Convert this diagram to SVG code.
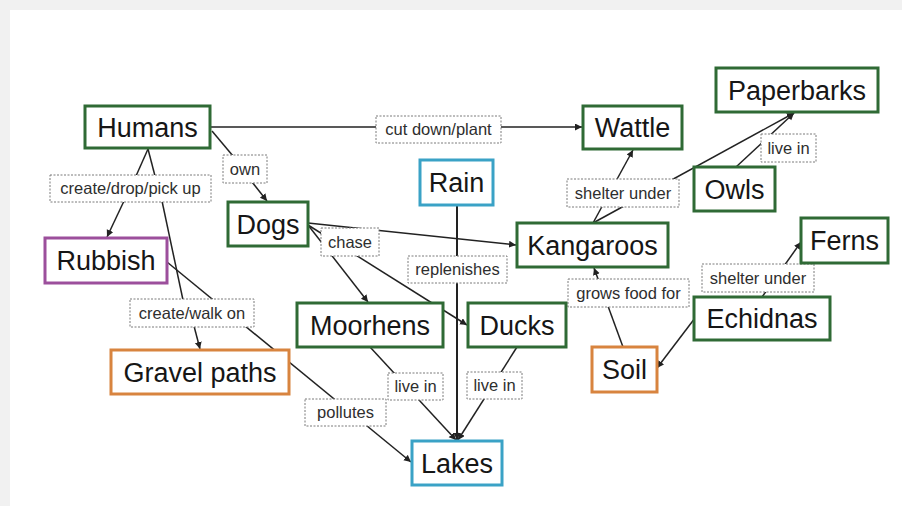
<svg xmlns="http://www.w3.org/2000/svg" width="902" height="506" viewBox="0 0 902 506">
<defs>
<marker id="arr" markerUnits="userSpaceOnUse" markerWidth="8" markerHeight="8" refX="7" refY="3.5" orient="auto">
<path d="M0,0 L7,3.5 L0,7 z" fill="#222"/>
</marker>
<style>
.node rect{fill:#fff;stroke-width:3}
.g rect{stroke:#2f6a35}
.p rect{stroke:#9c4f9c}
.o rect{stroke:#d8843f}
.b rect{stroke:#3aa2c6}
.node text{font-family:"Liberation Sans",Arial,sans-serif;font-size:27px;fill:#161616;text-anchor:middle}
.lbl rect{fill:#fff;stroke:#7a7a7a;stroke-width:1;stroke-dasharray:2 1.5}
.lbl text{font-family:"Liberation Sans",Arial,sans-serif;font-size:16.5px;fill:#2e2e2e;text-anchor:middle}
.edges line{stroke:#222;stroke-width:1.5;fill:none}
.a{marker-end:url(#arr)}
</style>
</defs>
<rect x="0" y="0" width="902" height="506" fill="#f1f1f1"/>
<rect x="10" y="10" width="892" height="496" fill="#fff"/>

<g id="connectors" class="edges">
<line class="a" x1="210" y1="127" x2="582" y2="127"/>
<line x1="212" y1="131" x2="233" y2="156"/>
<line class="a" x1="252" y1="182" x2="267" y2="201"/>
<line x1="148" y1="149" x2="136" y2="176"/>
<line x1="148" y1="149" x2="155" y2="176"/>
<line class="a" x1="124" y1="201" x2="107" y2="237"/>
<line x1="162" y1="201" x2="183" y2="300"/>
<line class="a" x1="194" y1="326" x2="200" y2="349"/>
<line class="a" x1="167" y1="262" x2="411" y2="462"/>
<line class="a" x1="308" y1="223" x2="516" y2="245"/>
<line class="a" x1="308" y1="225" x2="368" y2="302"/>
<line class="a" x1="308" y1="225" x2="467" y2="325"/>
<line class="a" x1="457" y1="205" x2="457" y2="440" style="stroke-width:2"/>
<line class="a" x1="370" y1="347" x2="456" y2="440"/>
<line class="a" x1="517" y1="347" x2="458" y2="440"/>
<line class="a" x1="593" y1="223" x2="633" y2="150"/>
<line class="a" x1="593" y1="223" x2="794" y2="113"/>
<line class="a" x1="736" y1="167" x2="794" y2="113"/>
<line class="a" x1="623" y1="347" x2="594" y2="268"/>
<line class="a" x1="695" y1="318" x2="657" y2="368"/>
<line class="a" x1="762" y1="297" x2="801" y2="242"/>

<g class="lbl">
<rect x="376" y="116" width="125" height="27"/><text x="438.5" y="135">cut down/plant</text>
<rect x="223" y="155" width="44" height="28"/><text x="245" y="174.5">own</text>
<rect x="50" y="175" width="161" height="27"/><text x="130.5" y="194">create/drop/pick up</text>
<rect x="321" y="228" width="58" height="28"/><text x="350" y="247.5">chase</text>
<rect x="408" y="256" width="99" height="27"/><text x="457.5" y="275">replenishes</text>
<rect x="130" y="299" width="124" height="28"/><text x="192" y="318.5">create/walk on</text>
<rect x="305" y="399" width="81" height="27"/><text x="345.5" y="418">pollutes</text>
<rect x="388" y="373" width="55" height="27"/><text x="415.5" y="392">live in</text>
<rect x="467" y="372" width="55" height="27"/><text x="494.5" y="391">live in</text>
<rect x="567" y="179" width="112" height="28"/><text x="623" y="198.5">shelter under</text>
<rect x="761" y="134" width="55" height="28"/><text x="788.5" y="153.5">live in</text>
<rect x="568" y="279" width="121" height="28"/><text x="628.5" y="298.5">grows food for</text>
<rect x="702" y="264" width="112" height="28"/><text x="758" y="283.5">shelter under</text>
</g>
</g>

<g id="humans" class="node g"><rect x="85" y="106" width="125" height="42"/><text x="147.5" y="136.5">Humans</text></g>
<g id="dogs" class="node g"><rect x="228" y="202" width="80" height="44"/><text x="268" y="233.5">Dogs</text></g>
<g id="rubbish" class="node p"><rect x="45" y="238" width="122" height="45"/><text x="106" y="270">Rubbish</text></g>
<g id="gravel-paths" class="node o"><rect x="111" y="350" width="178" height="44"/><text x="200" y="381.5">Gravel paths</text></g>
<g id="moorhens" class="node g"><rect x="297" y="303" width="146" height="44"/><text x="370" y="334.5">Moorhens</text></g>
<g id="lakes" class="node b"><rect x="412" y="441" width="90" height="44"/><text x="457" y="472.5">Lakes</text></g>
<g id="rain" class="node b"><rect x="420" y="160" width="73" height="45"/><text x="456.5" y="192">Rain</text></g>
<g id="ducks" class="node g"><rect x="468" y="303" width="98" height="44"/><text x="517" y="334.5">Ducks</text></g>
<g id="kangaroos" class="node g"><rect x="517" y="223" width="151" height="44"/><text x="592.5" y="254.5">Kangaroos</text></g>
<g id="wattle" class="node g"><rect x="583" y="106" width="99" height="43"/><text x="632.5" y="137">Wattle</text></g>
<g id="paperbarks" class="node g"><rect x="716" y="68" width="162" height="44"/><text x="797" y="99.5">Paperbarks</text></g>
<g id="owls" class="node g"><rect x="694" y="167" width="81" height="44"/><text x="734.5" y="198.5">Owls</text></g>
<g id="ferns" class="node g"><rect x="801" y="218" width="87" height="45"/><text x="844.5" y="250">Ferns</text></g>
<g id="echidnas" class="node g"><rect x="694" y="297" width="136" height="43"/><text x="762" y="328">Echidnas</text></g>
<g id="soil" class="node o"><rect x="592" y="347" width="65" height="45"/><text x="624.5" y="379">Soil</text></g>
</svg>
